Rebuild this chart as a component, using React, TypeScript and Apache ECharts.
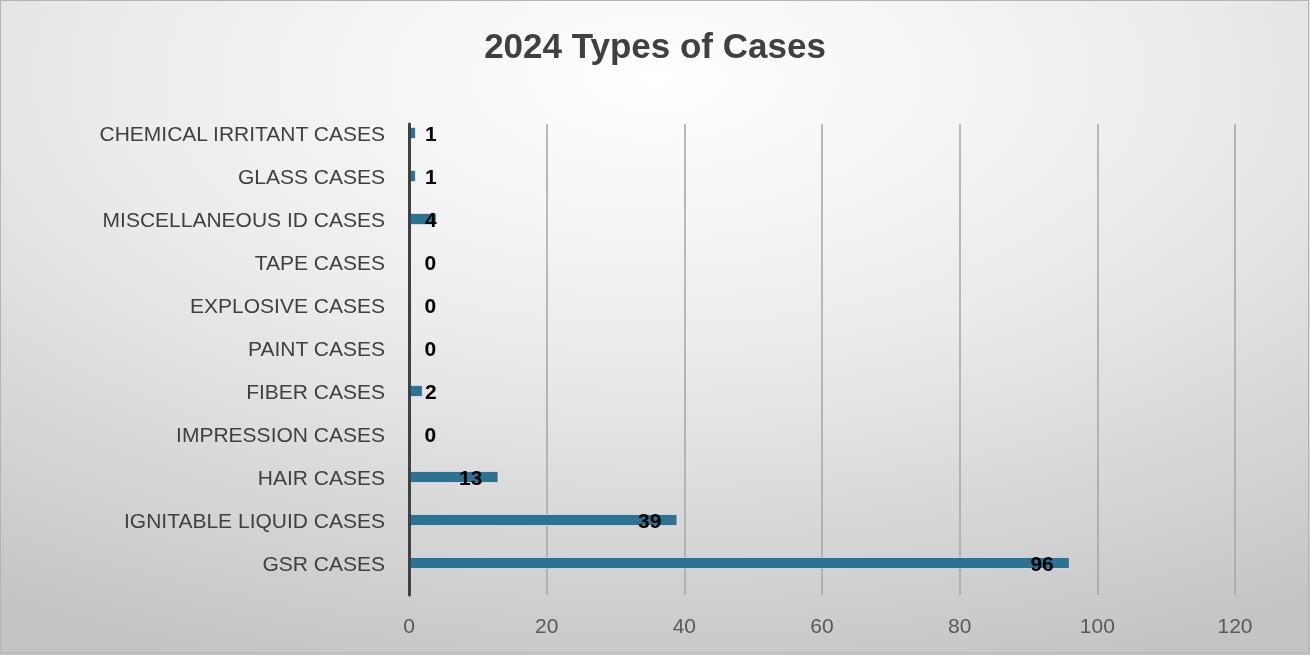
import React, { useEffect, useRef } from "react";
import * as echarts from "echarts";

const categories = [
  "GSR CASES",
  "IGNITABLE LIQUID CASES",
  "HAIR CASES",
  "IMPRESSION CASES",
  "FIBER CASES",
  "PAINT CASES",
  "EXPLOSIVE CASES",
  "TAPE CASES",
  "MISCELLANEOUS ID CASES",
  "GLASS CASES",
  "CHEMICAL IRRITANT CASES",
];
const values = [96, 39, 13, 0, 2, 0, 0, 0, 4, 1, 1];
const xTicks = [0, 20, 40, 60, 80, 100, 120];
const title = "2024 Types of Cases";

export default function App() {
  const ref = useRef<HTMLDivElement>(null);
  useEffect(() => {
    if (!ref.current) return;
    const chart = echarts.init(ref.current, null, { renderer: "svg" });
    const font = "'Liberation Sans', Arial, sans-serif";
    const data = values.map((v) => {
      const big = v >= 10;
      return {
        value: v,
        label: big
          ? { show: true, position: "insideRight", distance: 16 }
          : { show: true, position: [16, "50%"], align: "left", verticalAlign: "middle" },
      };
    });
    chart.setOption({
      animation: false,
      backgroundColor: {
        type: "radial",
        x: 0.5,
        y: 0.12,
        r: 0.95,
        colorStops: [
          { offset: 0, color: "#ffffff" },
          { offset: 0.45, color: "#ebebeb" },
          { offset: 1, color: "#c4c4c4" },
        ],
      },
      title: {
        text: title,
        left: "center",
        top: 23,
        textStyle: { fontFamily: font, fontSize: 35, fontWeight: "bold", color: "#404040" },
      },
      graphic: [
        {
          type: "rect",
          shape: { x: 0.5, y: 0.5, width: 1308, height: 652.5 },
          style: { fill: "none", stroke: "#b4b4b4", lineWidth: 1 },
          silent: true,
        },
      ],
      grid: [
        { left: 409, right: 75, top: 124, bottom: 60, containLabel: false },
        { left: 409, right: 75, top: 111.5, height: 473, containLabel: false },
      ],
      xAxis: [
        {
          type: "value",
          gridIndex: 0,
          min: 0,
          max: xTicks[xTicks.length - 1],
          interval: 20,
          axisLine: { show: false },
          axisTick: { show: false },
          axisLabel: { fontFamily: font, fontSize: 21, color: "#595959", margin: 20 },
          splitLine: { show: true, lineStyle: { color: "#a4a4a4", width: 1.5 } },
        },
        {
          type: "value",
          gridIndex: 1,
          min: 0,
          max: xTicks[xTicks.length - 1],
          show: false,
        },
      ],
      yAxis: [
        {
          type: "value",
          gridIndex: 0,
          min: 0,
          max: 1,
          z: 10,
          axisLine: { show: true, lineStyle: { color: "#404040", width: 3 } },
          axisTick: { show: false },
          axisLabel: { show: false },
          splitLine: { show: false },
        },
        {
          type: "category",
          gridIndex: 1,
          data: categories,
          axisLine: { show: false },
          axisTick: { show: false },
          axisLabel: { fontFamily: font, fontSize: 21, color: "#404040", margin: 24 },
          splitLine: { show: false },
        },
      ],
      series: [
        {
          type: "bar",
          xAxisIndex: 1,
          yAxisIndex: 1,
          data,
          barWidth: 12,
          itemStyle: {
            color: "#2f7191",
            borderColor: "rgba(255,255,255,0.55)",
            borderWidth: 1,
          },
          label: {
            show: true,
            fontFamily: font,
            fontSize: 21,
            fontWeight: "bold",
            color: "#000000",
          },
        },
      ],
    });
    return () => chart.dispose();
  }, []);
  return (
    <div
      ref={ref}
      style={{ position: "fixed", left: 0, top: 0, width: 1310, height: 655 }}
    />
  );
}
